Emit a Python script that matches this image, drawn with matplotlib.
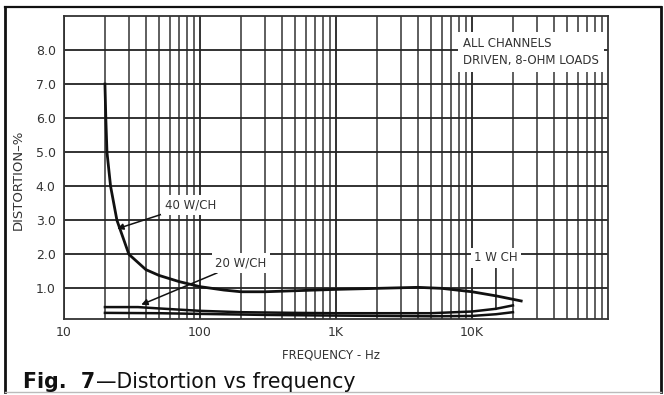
import numpy as np
import matplotlib
matplotlib.use("Agg")
import matplotlib.pyplot as plt
from matplotlib.lines import Line2D

plt.rcParams['font.family'] = ['Liberation Sans Narrow', 'DejaVu Sans']

# data (frequency in Hz, distortion in %)
freq_40w = [20, 20.3, 20.7, 22, 24.5, 30, 40, 50, 70, 100, 150, 200, 300, 500,
            1000, 2000, 4000, 6000, 10000, 15000, 23000]
dist_40w = [7.0, 6.0, 5.0, 4.0, 3.0, 2.0, 1.55, 1.38, 1.2, 1.05, 0.95, 0.9, 0.9,
            0.93, 0.97, 1.0, 1.03, 1.0, 0.9, 0.78, 0.63]

freq_20w = [20, 35, 50, 100, 200, 500, 1000, 5000, 10000, 15000, 20000]
dist_20w = [0.45, 0.45, 0.41, 0.34, 0.3, 0.28, 0.27, 0.27, 0.32, 0.4, 0.5]

freq_1w = [20, 50, 100, 300, 1000, 5000, 10000, 15000, 20000]
dist_1w = [0.28, 0.27, 0.25, 0.22, 0.2, 0.18, 0.19, 0.24, 0.3]

xtick_vals = [10, 100, 1000, 10000]
xtick_labels = ['10', '100', '1K', '10K']
ytick_vals = [1, 2, 3, 4, 5, 6, 7, 8]

fig = plt.figure(figsize=(6.64, 3.95), dpi=100)
ax = fig.add_axes([64/664, 1-319/395, (608-64)/664, (319-16)/395])

ax.set_xscale('log')
ax.set_xlim(10, 100000)
ax.set_ylim(0.1, 9.0)

ax.set_xticks(xtick_vals)
ax.set_xticklabels(xtick_labels)
ax.set_xticks([m*10**d for d in range(1, 5) for m in range(2, 10)], minor=True)
ax.xaxis.set_minor_formatter(matplotlib.ticker.NullFormatter())
ax.set_yticks(ytick_vals)
ax.set_yticklabels(['%.1f' % v for v in ytick_vals])
ax.tick_params(which='both', length=0, labelsize=9, colors='#333333')
ax.tick_params(axis='x', pad=5)
ax.tick_params(axis='y', pad=6)

ax.grid(True, which='major', color='#222222', lw=1.3)
ax.grid(True, which='minor', axis='x', color='#333333', lw=1.1)
for s in ax.spines.values():
    s.set_color('#333333')
    s.set_linewidth(1.3)

ax.plot(freq_40w, dist_40w, color='#111111', lw=2.0, zorder=3)
ax.plot(freq_20w, dist_20w, color='#111111', lw=1.8, zorder=3)
ax.plot(freq_1w, dist_1w, color='#111111', lw=1.8, zorder=3)

box = dict(boxstyle='square,pad=0.3', fc='white', ec='none')
arrow = dict(arrowstyle='-|>', lw=1.1, color='#111111', mutation_scale=9,
             shrinkA=0, shrinkB=0)
ax.annotate('40 W/CH', xy=(24.6, 2.75), xytext=(55, 3.45), fontsize=8.5,
            color='#333333', va='center', ha='left', bbox=box,
            arrowprops=arrow, zorder=4)
ax.annotate('20 W/CH', xy=(37, 0.52), xytext=(130, 1.75), fontsize=8.5,
            color='#333333', va='center', ha='left', bbox=box,
            arrowprops=arrow, zorder=4)
ax.annotate('1 W CH', xy=(15000, 0.38), xytext=(15000, 1.9), fontsize=8.5,
            color='#333333', va='center', ha='center', bbox=box,
            arrowprops=dict(arrowstyle='-', lw=1.1, color='#111111',
                            shrinkA=0, shrinkB=0), zorder=4)

ax.text(8600, 7.94, 'ALL CHANNELS\nDRIVEN, 8-OHM LOADS', fontsize=8.5,
        color='#333333', va='center', ha='left', linespacing=1.35,
        bbox=dict(boxstyle='square,pad=0.45', fc='white', ec='none'), zorder=4)

ax.set_xlabel('FREQUENCY - Hz', fontsize=8.5, color='#333333')
ax.xaxis.set_label_coords(0.49, -(348-319)/303, transform=ax.transAxes)
ax.set_ylabel('DISTORTION\u2013%', fontsize=9.5, color='#333333')
ax.yaxis.set_label_coords(-(64-25)/544, 1-(180-16)/303)

# outer frame: dark on three sides, faint at the bottom
def px(x, y):
    return x/664, 1-y/395
for (x0, y0), (x1, y1), c, w in [((5, 392), (5, 7), '#111111', 2.0),
                                 ((5, 7), (661, 7), '#111111', 1.6),
                                 ((661, 7), (661, 392), '#111111', 2.0),
                                 ((5, 392), (661, 392), '#bbbbbb', 1.0)]:
    a, b = px(x0, y0)
    c2, d = px(x1, y1)
    fig.add_artist(Line2D([a, c2], [b, d], color=c, lw=w,
                          transform=fig.transFigure))

# caption
t1 = fig.text(23/664, 1-388/395, 'Fig.  7', fontsize=14.8, fontweight='bold',
              family=['DejaVu Sans'], color='#111111', va='baseline')
fig.canvas.draw()
bb = t1.get_window_extent()
fig.text(bb.x1/664 + 1/664, 1-388/395, '\u2014Distortion vs frequency',
         fontsize=14.8, family=['DejaVu Sans'], color='#111111', va='baseline')

plt.savefig('out.png', dpi=100)
